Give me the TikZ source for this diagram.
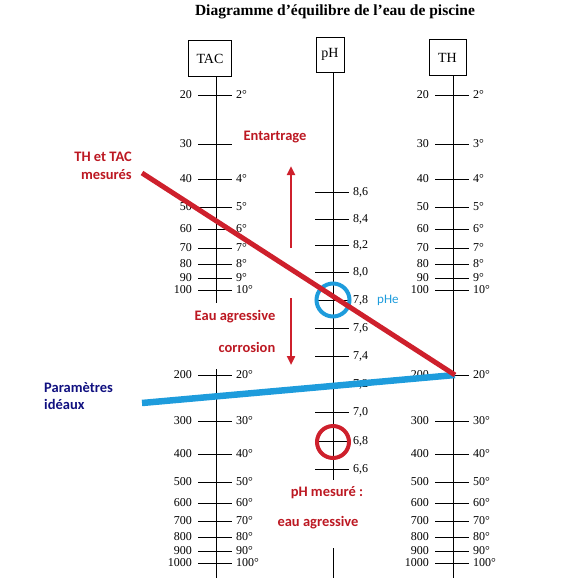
\documentclass[tikz,border=0pt]{standalone}
\usepackage{fontspec}
\setmainfont{Liberation Serif}
\newfontfamily\calibri{Carlito}
\usetikzlibrary{arrows.meta,positioning}
\definecolor{mesred}{RGB}{206,32,44}
\definecolor{lblred}{RGB}{188,24,34}
\definecolor{idealblue}{RGB}{30,156,220}
\definecolor{navytext}{RGB}{16,16,128}

\begin{document}
\begin{tikzpicture}[x=1pt,y=-1pt,scalebox/.style={draw,line width=0.8pt,minimum height=36pt,inner sep=0pt,font=\fontsize{14}{16}\selectfont},axis/.style={line width=0.9pt},tick/.style={line width=0.9pt},num/.style={inner sep=0pt,font=\fontsize{12}{13}\selectfont},redlbl/.style={inner sep=0pt,text=lblred,font=\calibri\bfseries\fontsize{14.5}{17.5}\selectfont},redarrow/.style={-{Triangle[length=9pt,width=8pt]},line width=2.6pt,mesred},ring/.style={circle,line width=4pt,minimum size=33pt,inner sep=0pt}]
\useasboundingbox (0,0) rectangle (584,582);
\node[font=\bfseries\fontsize{15.5}{17}\selectfont] (title) at (335,12) {Diagramme d’équilibre de l’eau de piscine};
% the three scales
\node[scalebox,minimum width=43pt] (tac) at (210,58.5) {TAC};
\node[scalebox,minimum width=28pt,minimum height=35pt] (ph) at (330,54.5) {pH};
\node[scalebox,minimum width=37pt] (th) at (447.5,57.5) {TH};
\draw[axis] (216,77) -- (216,303) (216,369) -- (216,578);
\draw[axis] (333,72) -- (333,480) (333,548) -- (333,578);
\draw[axis] (453,76) -- (453,578);
\foreach \ax in {216,453}
  \foreach \v/\y in {20/95,30/144,40/179,50/207,60/229,70/248,80/264,90/278,100/290,200/375,300/421,400/454,500/482,600/503,700/521,800/537,900/551,1000/563}{
    \pgfmathtruncatemacro\d{\v/10}
    \draw[tick] (\ax-18,\y) -- (\ax+16,\y);
    \node[num,anchor=east] (l\ax-\v) at (\ax-24,\y) {\v};
    \pgfmathtruncatemacro\hide{and(\ax==216,\v==30)}
    \ifnum\hide=0 \node[num,anchor=west] (r\ax-\v) at (\ax+20,\y) {\d°};\fi
  }
\foreach \y/\a/\b in {192/8/6,219/8/4,245/8/2,272/8/0,300/7/8,328/7/6,356/7/4,384/7/2,412/7/0,441/6/8,469/6/6}{
  \draw[tick] (315,\y) -- (349,\y);
  \node[num,anchor=west] (p\a\b) at (353,\y) {\a,\b};
}
% measured and ideal lines
\coordinate (tacmes) at (142,173); \coordinate (ideal) at (142,403); \coordinate (th200) at (455,375);
\draw[idealblue,line width=6.5pt] (ideal) -- (th200);
\node[ring,draw=idealblue] (phe) at (333,300) {};
\node[ring,draw=mesred,minimum size=32pt] (phmes) at (333,442) {};
\draw[mesred,line width=5pt] (tacmes) -- (th200);
% labels
\node[redlbl] (entartrage) at (275,137) {Entartrage};
\node[redlbl] (agressive) at (235,317) {Eau agressive};
\node[redlbl] (corrosion) at (247,347) {corrosion};
\node[redlbl] (mesure) at (327,493) {pH mesuré :};
\node[redlbl] (eauagr) at (318,523) {eau agressive};
\node[redlbl,align=right,anchor=east] (mesures) at (132,166) {TH et TAC\\mesurés};
\node[inner sep=0pt,text=navytext,font=\calibri\bfseries\fontsize{14.5}{17}\selectfont,align=left,anchor=west] (params) at (44,396) {Paramètres\\idéaux};
\node[inner sep=0pt,text=idealblue,font=\calibri\fontsize{13}{15}\selectfont,anchor=west] (phelbl) at (377,300) {pHe};
\coordinate (up0) at (291,248); \coordinate (up1) at (291,166);
\coordinate (dn0) at (291,298); \coordinate (dn1) at (291,365);
\draw[redarrow] (up0) -- (up1);
\draw[redarrow] (dn0) -- (dn1);
\end{tikzpicture}
\end{document}
